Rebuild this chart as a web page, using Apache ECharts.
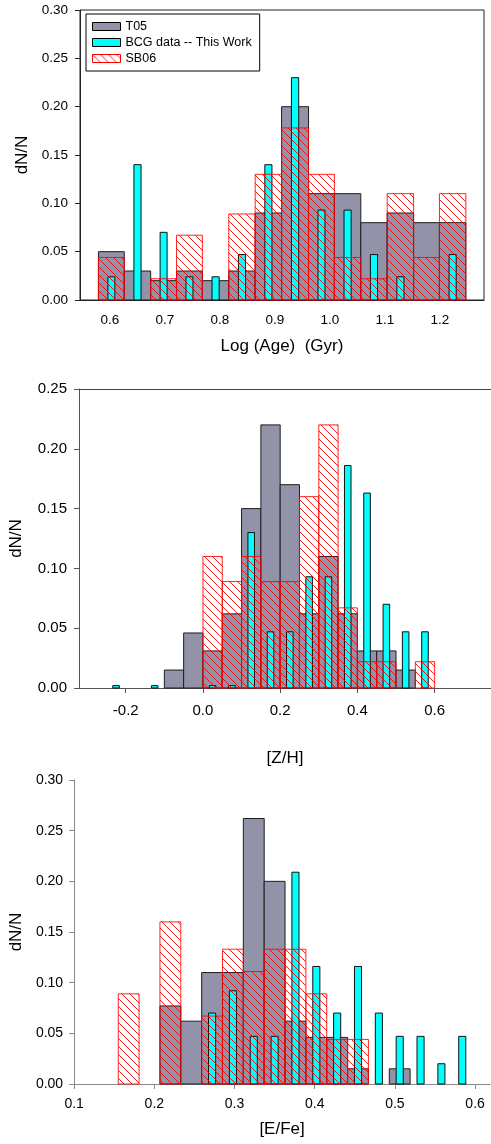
<!DOCTYPE html>
<html><head><meta charset="utf-8">
<script src="https://cdn.jsdelivr.net/npm/echarts@6/dist/echarts.min.js"></script>
<style>html,body{margin:0;padding:0;background:#fff}#c{width:491px;height:1144px}</style>
</head><body><div id="c"></div>
<script>
// ---------- Panel 1 : Log (Age) ----------
const ageEdges = [0.579,0.626,0.674,0.721,0.768,0.816,0.864,0.912,0.961,1.008,1.056,1.104,1.152,1.199,1.247];
const ageT05  = [0.05,0.03,0.02,0.03,0.02,0.03,0.09,0.20,0.11,0.11,0.08,0.09,0.08,0.08];
const ageBCG  = [0.024,0.14,0.07,0.024,0.024,0.047,0.14,0.23,0.093,0.093,0.047,0.024,0,0.047];
const ageSB06 = [0.044,0,0.022,0.067,0,0.089,0.13,0.178,0.13,0.044,0.022,0.11,0.044,0.11];
const ageTicks = [0.6,0.7,0.8,0.9,1.0,1.1,1.2];

// ---------- Panel 2 : [Z/H] ----------
const zhEdges = [-0.25,-0.2,-0.15,-0.1,-0.05,0,0.05,0.1,0.15,0.2,0.25,0.3,0.35,0.4,0.45,0.5,0.55,0.6];
const zhT05  = [0,0,0,0.015,0.046,0.031,0.062,0.15,0.22,0.17,0.062,0.11,0.062,0.031,0.031,0.015,0];
const zhBCG  = [0.002,0,0.002,0,0,0.002,0.002,0.13,0.047,0.047,0.093,0.093,0.186,0.163,0.07,0.047,0.047];
const zhSB06 = [0,0,0,0,0,0.11,0.089,0.11,0.089,0.089,0.16,0.22,0.067,0.022,0.022,0,0.022];
const zhTicks = [-0.2,0.0,0.2,0.4,0.6];

// ---------- Panel 3 : [E/Fe] ----------
const efeEdges = [0.155,0.181,0.207,0.233,0.259,0.285,0.311,0.337,0.363,0.389,0.415,0.441,0.467,0.493,0.519,0.545,0.571,0.597];
const efeT05  = [0,0,0.077,0.062,0.11,0.11,0.262,0.20,0.062,0.046,0.046,0.015,0,0.015,0,0,0];
const efeBCG  = [0,0,0,0,0.07,0.092,0.047,0.047,0.209,0.116,0.07,0.116,0.07,0.047,0.047,0.02,0.047];
const efeSB06 = [0.089,0,0.16,0,0.067,0.133,0.111,0.133,0.133,0.089,0.044,0.044,0,0,0,0,0];
const efeTicks = [0.1,0.2,0.3,0.4,0.5,0.6];

const seriesNames = ['T05','BCG data -- This Work','SB06'];

const FONT = '"Liberation Sans", Arial, sans-serif';
const T05_FILL = '#9292a8', BCG_FILL = '#00ffff';

function makeHatch(){
  const s = 8, c = document.createElement('canvas');
  c.width = s; c.height = s;
  const g = c.getContext('2d');
  g.strokeStyle = 'rgba(255,0,0,0.9)'; g.lineWidth = 1;
  g.beginPath();
  for (let k = -1; k <= 1; k++) { g.moveTo(k*s, 0); g.lineTo(k*s + s, s); }
  g.stroke();
  return c;
}
const hatch = {image: makeHatch(), repeat: 'repeat'};

function binData(edges, vals){ return vals.map((v,i)=>[edges[i], edges[i+1], v]); }

const STYLES = {
  t05: {fill: T05_FILL, stroke: '#1e1e1e', lineWidth: 1},
  bcg: {fill: BCG_FILL, stroke: '#111', lineWidth: 1},
  sb06: {fill: hatch, stroke: 'rgba(255,0,0,0.85)', lineWidth: 1}
};

function renderer(kind, frac){
  return function(params, api){
    const x0 = api.value(0), x1 = api.value(1), v = api.value(2);
    if (!v) return null;
    const pTop = api.coord([x0, v]);
    const pBot = api.coord([x1, 0]);
    let left = pTop[0], right = pBot[0];
    if (kind === 'bcg') { const c = (left+right)/2, w = (right-left)*frac; left = c - w/2; right = c + w/2; }
    return {type: 'rect', shape: {x: left, y: pTop[1], width: right-left, height: pBot[1]-pTop[1]}, style: STYLES[kind]};
  };
}

function panelSeries(idx, t05, bcg, sb06, edges, frac){
  const mk = (name, kind, vals, itemStyle) => ({
    type: 'custom', name, xAxisIndex: idx, yAxisIndex: idx,
    renderItem: renderer(kind, frac),
    encode: {x: [0,1], y: 2},
    itemStyle,
    data: binData(edges, vals)
  });
  return [
    mk(seriesNames[0], 't05', t05, {color: T05_FILL, borderColor: '#1e1e1e', borderWidth: 1}),
    mk(seriesNames[1], 'bcg', bcg, {color: BCG_FILL, borderColor: '#111', borderWidth: 1}),
    mk(seriesNames[2], 'sb06', sb06, {color: hatch, borderColor: 'rgba(255,0,0,0.85)', borderWidth: 1})
  ];
}

function xAxis(idx, min, max, ticks, name, nameGap, fs, margin, lineColor, showTick){
  return {
    type: 'value', gridIndex: idx, min, max, position: 'bottom',
    name, nameLocation: 'middle', nameGap,
    nameTextStyle: {fontFamily: FONT, fontSize: 17, color: '#000'},
    axisLine: {show: true, onZero: false, lineStyle: {color: lineColor, width: 1}},
    axisTick: {show: showTick, customValues: ticks, length: 5, lineStyle: {color: lineColor}},
    axisLabel: {customValues: ticks, margin, fontFamily: FONT, fontSize: fs, color: '#000',
      formatter: v => v.toFixed(1)},
    splitLine: {show: false}
  };
}
function yAxis(idx, max, name, nameGap, fs, margin, lineColor){
  return {
    type: 'value', gridIndex: idx, min: 0, max, interval: 0.05, position: 'left',
    name, nameLocation: 'middle', nameGap,
    nameTextStyle: {fontFamily: FONT, fontSize: 17, color: '#000'},
    axisLine: {show: true, onZero: false, lineStyle: {color: lineColor, width: 1}},
    axisTick: {show: true, length: 5, lineStyle: {color: lineColor}},
    axisLabel: {margin, fontFamily: FONT, fontSize: fs, color: '#000', formatter: v => v.toFixed(2)},
    splitLine: {show: false}
  };
}

const option = {
  animation: false,
  backgroundColor: '#fff',
  grid: [
    {left: 80, top: 10, width: 404, height: 290, show: true, borderColor: '#222', borderWidth: 1},
    {left: 77, top: 389, width: 414, height: 299},
    {left: 71, top: 780, width: 419, height: 304}
  ],
  xAxis: [
    xAxis(0, 0.5455, 1.28, ageTicks, 'Log (Age)  (Gyr)', 38, 13.5, 13, '#222', false),
    xAxis(1, -0.321, 0.746, zhTicks, '[Z/H]', 62, 15, 15, '#555', true),
    xAxis(2, 0.1, 0.6186, efeTicks, '[E/Fe]', 37, 14, 13, '#888', true),
    {type: 'value', gridIndex: 1, position: 'top', min: -0.321, max: 0.746,
     axisLine: {show: true, onZero: false, lineStyle: {color: '#444'}}, axisTick: {show: false},
     axisLabel: {show: false}, splitLine: {show: false}}
  ],
  yAxis: [
    yAxis(0, 0.30, 'dN/N', 47, 13.5, 12, '#222'),
    yAxis(1, 0.25, 'dN/N', 54, 15, 12, '#555'),
    yAxis(2, 0.30, 'dN/N', 48, 14, 11, '#888')
  ],
  legend: {
    orient: 'vertical', left: 86, top: 14,
    backgroundColor: '#fff', borderColor: '#000', borderWidth: 1,
    padding: [6, 8, 6, 6], itemGap: 3, itemWidth: 28, itemHeight: 8,
    icon: 'rect', selectedMode: false,
    textStyle: {fontFamily: FONT, fontSize: 12.5, color: '#000'},
    data: [
      {name: seriesNames[0], itemStyle: {color: T05_FILL, borderColor: '#000', borderWidth: 1}},
      {name: seriesNames[1], itemStyle: {color: BCG_FILL, borderColor: '#000', borderWidth: 1}},
      {name: seriesNames[2], itemStyle: {color: hatch, borderColor: '#f00', borderWidth: 1}}
    ]
  },
  series: [
    ...panelSeries(0, ageT05, ageBCG, ageSB06, ageEdges, 0.27),
    ...panelSeries(1, zhT05, zhBCG, zhSB06, zhEdges, 0.34),
    ...panelSeries(2, efeT05, efeBCG, efeSB06, efeEdges, 0.34)
  ]
};

const chart = echarts.init(document.getElementById('c'), null, {renderer: 'canvas'});
chart.setOption(option);
</script>
</body></html>
